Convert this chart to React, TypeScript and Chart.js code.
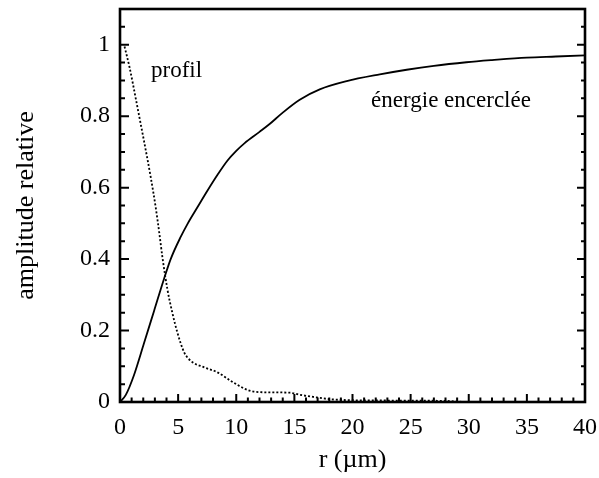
import React, { useEffect, useRef } from "react";
import { Chart, registerables } from "chart.js";

Chart.register(...registerables);

// encircled energy (solid line)
const energyR = [0, 0.5, 1.2, 2.07, 2.93, 3.79, 4.36, 5.22, 5.8, 6.66, 7.53, 8.39, 9.25, 10.0, 10.7, 12.0, 12.87, 14.0, 15.46, 17.18, 19.5, 22.35, 24.66, 27, 29.8, 32, 35, 37.5, 40];
const energyV = [0, 0.02, 0.075, 0.165, 0.255, 0.345, 0.4, 0.462, 0.498, 0.545, 0.592, 0.636, 0.676, 0.703, 0.724, 0.756, 0.778, 0.81, 0.846, 0.875, 0.898, 0.917, 0.93, 0.941, 0.951, 0.957, 0.964, 0.967, 0.97];

// profile (dotted line)
const profilR = [0.39, 0.82, 1.4, 1.83, 2.08, 2.65, 3.07, 3.36, 3.65, 4.08, 4.5, 4.94, 5.52, 6.09, 7.24, 8.39, 9.53, 10.8, 11.5, 13, 14.6, 15.5, 16.9, 18, 20, 24, 28, 30, 40];
const profilV = [0.995, 0.937, 0.842, 0.77, 0.728, 0.628, 0.545, 0.478, 0.405, 0.315, 0.25, 0.194, 0.139, 0.115, 0.097, 0.083, 0.059, 0.036, 0.029, 0.027, 0.026, 0.02, 0.013, 0.008, 0.005, 0.004, 0.003, 0, 0];

const xMajorTicks = [0, 5, 10, 15, 20, 25, 30, 35, 40];
const yMajorTicks = [0, 0.2, 0.4, 0.6, 0.8, 1];

const xTitle = "r (µm)";
const yTitle = "amplitude relative";
const profilLabel = "profil";
const energyLabel = "énergie encerclée";
const profilLabelPos = [2.67, 0.91];
const energyLabelPos = [21.6, 0.826];

const FONT = "'Liberation Serif'";

const frameTicks = {
  id: "frameTicks",
  afterDraw(chart: any) {
    const { ctx, chartArea: a, scales } = chart;
    const x = scales.x;
    const y = scales.y;
    ctx.save();
    ctx.strokeStyle = "#000";
    ctx.lineWidth = 2;
    ctx.beginPath();
    for (let i = 0; i <= 40; i++) {
      const px = x.getPixelForValue(i);
      const major = xMajorTicks.includes(i);
      ctx.moveTo(px, a.bottom);
      ctx.lineTo(px, a.bottom - (major ? 8 : 4.5));
    }
    for (let k = 0; k <= 22; k++) {
      const v = k * 0.05;
      const py = y.getPixelForValue(v);
      const major = yMajorTicks.some((t) => Math.abs(t - v) < 1e-6);
      ctx.moveTo(a.left, py);
      ctx.lineTo(a.left + (major ? 9 : 5), py);
      ctx.moveTo(a.right, py);
      ctx.lineTo(a.right - (major ? 8 : 4), py);
    }
    ctx.stroke();
    ctx.lineWidth = 2.6;
    ctx.strokeRect(a.left, a.top, a.right - a.left, a.bottom - a.top);

    ctx.fillStyle = "#000";
    ctx.font = `23px ${FONT}`;
    ctx.textAlign = "left";
    ctx.textBaseline = "alphabetic";
    ctx.fillText(profilLabel, x.getPixelForValue(profilLabelPos[0]), y.getPixelForValue(profilLabelPos[1]));
    ctx.fillText(energyLabel, x.getPixelForValue(energyLabelPos[0]), y.getPixelForValue(energyLabelPos[1]));
    ctx.restore();
  },
};

export default function App() {
  const ref = useRef<HTMLCanvasElement | null>(null);
  useEffect(() => {
    if (!ref.current) return;
    const chart = new Chart(ref.current, {
      type: "scatter",
      data: {
        datasets: [
          {
            label: "énergie encerclée",
            data: energyR.map((r, i) => ({ x: r, y: energyV[i] })),
            showLine: true,
            borderColor: "#000",
            borderWidth: 1.8,
            pointRadius: 0,
            cubicInterpolationMode: "monotone",
          },
          {
            label: "profil",
            data: profilR.map((r, i) => ({ x: r, y: profilV[i] })),
            showLine: true,
            borderColor: "#000",
            borderWidth: 1.8,
            borderDash: [2, 2],
            pointRadius: 0,
            cubicInterpolationMode: "monotone",
          },
        ],
      },
      options: {
        responsive: false,
        animation: false,
        devicePixelRatio: 1,
        layout: { padding: { top: 9, right: 14, left: 0, bottom: 0 } },
        plugins: { legend: { display: false }, tooltip: { enabled: false } },
        scales: {
          x: {
            type: "linear",
            min: 0,
            max: 40,
            grid: { display: false, drawTicks: false },
            border: { display: false },
            ticks: {
              stepSize: 5,
              color: "#000",
              font: { family: FONT, size: 24 },
              padding: 11,
              maxRotation: 0,
            },
            title: {
              display: true,
              text: xTitle,
              color: "#000",
              font: { family: FONT, size: 26 },
              padding: { top: 0, bottom: 2 },
            },
            afterFit: (s: any) => {
              s.height = 76;
              s.paddingLeft = 0;
              s.paddingRight = 0;
            },
          },
          y: {
            type: "linear",
            min: 0,
            max: 1.1,
            grid: { display: false, drawTicks: false },
            border: { display: false },
            ticks: {
              stepSize: 0.2,
              includeBounds: false,
              color: "#000",
              font: { family: FONT, size: 24 },
              padding: 10,
              callback: (v: any) => String(Math.round(Number(v) * 10) / 10),
            },
            title: {
              display: true,
              text: yTitle,
              color: "#000",
              font: { family: FONT, size: 26 },
              padding: { top: 11, bottom: 0 },
            },
            afterFit: (s: any) => {
              s.width = 120;
              s.paddingTop = 0;
              s.paddingBottom = 0;
            },
          },
        },
      },
      plugins: [frameTicks],
    } as any);
    return () => chart.destroy();
  }, []);
  return (
    <canvas
      ref={ref}
      width={599}
      height={478}
      style={{ position: "absolute", left: 0, top: 0, width: 599, height: 478, display: "block" }}
    />
  );
}
